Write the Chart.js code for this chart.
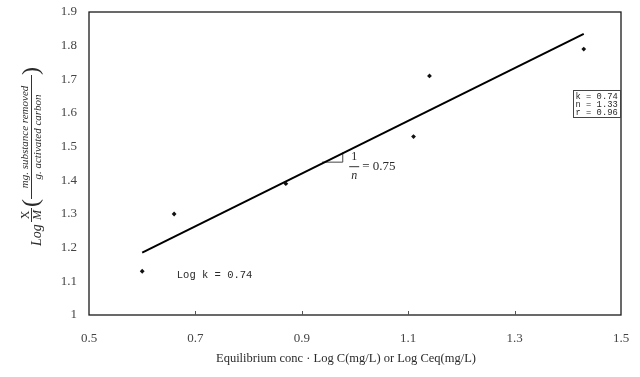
<!DOCTYPE html>
<html>
<head>
<meta charset="utf-8">
<script src="https://cdn.jsdelivr.net/npm/chart.js@4.4.1/dist/chart.umd.min.js"></script>
<style>
  html, body { margin: 0; padding: 0; background: #fff; }
  #wrap { width: 640px; height: 377px; }
</style>
</head>
<body>
<div id="wrap"><canvas id="isoChart" width="640" height="377"></canvas></div>
<script>
// measured points: log C (x) vs log X/M (y)
const logC = [0.60, 0.66, 0.87, 1.11, 1.14, 1.43];
const logXM = [1.13, 1.30, 1.39, 1.53, 1.71, 1.79];

// fitted Freundlich line
const fitX = [0.60, 1.43];
const fitY = [1.185, 1.835];

// little slope triangle under the line
const slopeX = [0.938, 0.977, 0.977];
const slopeY = [1.454, 1.454, 1.483];

const xTicks = [0.5, 0.7, 0.9, 1.1, 1.3, 1.5];
const yTicks = [1, 1.1, 1.2, 1.3, 1.4, 1.5, 1.6, 1.7, 1.8, 1.9];

const statLines = ["k = 0.74", "n = 1.33", "r = 0.96"];
const logKText = "Log k = 0.74";
const xTitle = "Equilibrium conc \u00b7 Log C(mg/L) or Log Ceq(mg/L)";

const SERIF = '"Liberation Serif", "DejaVu Serif", serif';
const MONO = '"Liberation Mono", "DejaVu Sans Mono", monospace';

const pairs = (xs, ys) => xs.map((x, i) => ({ x: x, y: ys[i] }));

const decorPlugin = {
    id: "decor",
    beforeDatasetsDraw(chart) {
        const { ctx, chartArea: a, scales } = chart;
        ctx.save();
        ctx.strokeStyle = "#1a1a1a";
        ctx.lineWidth = 1.3;
        ctx.strokeRect(a.left, a.top, a.right - a.left, a.bottom - a.top);
        // small inward ticks on the x axis
        ctx.lineWidth = 1;
        ctx.strokeStyle = "#555";
        xTicks.slice(1, -1).forEach(v => {
            const px = Math.round(scales.x.getPixelForValue(v)) + 0.5;
            ctx.beginPath();
            ctx.moveTo(px, a.bottom);
            ctx.lineTo(px, a.bottom - 4);
            ctx.stroke();
        });
        ctx.restore();
    },
    afterDraw(chart) {
        const { ctx, scales } = chart;
        const xs = scales.x, ys = scales.y;
        ctx.save();
        ctx.fillStyle = "#2a2a2a";

        // x axis title
        ctx.font = "12.5px " + SERIF;
        ctx.textAlign = "center";
        ctx.textBaseline = "middle";
        ctx.fillText(xTitle, 346, 359);

        // Log k label
        ctx.font = "10.5px " + MONO;
        ctx.textAlign = "left";
        ctx.fillText(logKText, xs.getPixelForValue(0.665), ys.getPixelForValue(1.118));

        // 1/n = 0.75
        const fx = xs.getPixelForValue(0.9985);
        const fy = ys.getPixelForValue(1.442);
        ctx.font = "12px " + SERIF;
        ctx.textAlign = "center";
        ctx.fillText("1", fx, fy - 9);
        ctx.font = "italic 12px " + SERIF;
        ctx.fillText("n", fx, fy + 10);
        ctx.strokeStyle = "#333";
        ctx.lineWidth = 1;
        ctx.beginPath();
        ctx.moveTo(fx - 5, fy + 0.5);
        ctx.lineTo(fx + 5, fy + 0.5);
        ctx.stroke();
        ctx.font = "13px " + SERIF;
        ctx.textAlign = "left";
        ctx.fillText("= 0.75", fx + 8, fy);

        // stats box at the right edge
        const bx = 573, by = 90, bw = 47, bh = 27;
        ctx.lineWidth = 1;
        ctx.strokeStyle = "#444";
        ctx.strokeRect(bx + 0.5, by + 0.5, bw, bh);
        ctx.font = "8.8px " + MONO;
        ctx.textAlign = "left";
        statLines.forEach((t, i) => ctx.fillText(t, bx + 2.5, by + 6.5 + i * 8.3));

        // rotated y axis title: Log X/M ( mg. substance removed / g. activated carbon )
        ctx.translate(31, 246);
        ctx.rotate(-Math.PI / 2);
        ctx.textBaseline = "alphabetic";
        ctx.font = "italic 14px " + SERIF;
        ctx.textAlign = "left";
        ctx.fillText("Log", 0, 10);
        ctx.font = "12px " + SERIF;
        ctx.textAlign = "center";
        ctx.fillText("X", 31, -2);
        ctx.font = "italic 12px " + SERIF;
        ctx.fillText("M", 31, 10);
        ctx.lineWidth = 1;
        ctx.strokeStyle = "#333";
        ctx.beginPath();
        ctx.moveTo(24, 0.5); ctx.lineTo(38, 0.5);
        ctx.moveTo(47, 0.5); ctx.lineTo(171, 0.5);
        ctx.stroke();
        ctx.font = "italic 11px " + SERIF;
        ctx.fillText("mg. substance removed", 109, -3);
        ctx.fillText("g. activated carbon", 109, 10);
        ctx.font = "24px " + SERIF;
        ctx.textBaseline = "middle";
        ctx.fillText("(", 43, 1);
        ctx.fillText(")", 175, 1);
        ctx.restore();
    }
};

const canvas = document.getElementById("isoChart");
const chart = new Chart(canvas.getContext("2d"), {
    type: "scatter",
    data: {
        datasets: [
            {
                label: "measured",
                data: pairs(logC, logXM),
                pointStyle: "rectRot",
                pointRadius: 2.4,
                backgroundColor: "#111",
                borderColor: "#111",
                borderWidth: 0
            },
            {
                label: "fit",
                type: "line",
                data: pairs(fitX, fitY),
                borderColor: "#000",
                borderWidth: 2,
                pointRadius: 0,
                fill: false
            },
            {
                label: "slope",
                type: "line",
                data: pairs(slopeX, slopeY),
                borderColor: "#444",
                borderWidth: 1,
                pointRadius: 0,
                fill: false
            }
        ]
    },
    options: {
        responsive: false,
        animation: false,
        devicePixelRatio: 1,
        layout: { padding: { left: 0, right: 19, top: 12, bottom: 0 } },
        plugins: {
            legend: { display: false },
            tooltip: { enabled: false }
        },
        scales: {
            x: {
                type: "linear",
                min: 0.5,
                max: 1.5,
                afterBuildTicks: s => { s.ticks = xTicks.map(v => ({ value: v })); },
                afterFit: s => {
                    s.height = 62;
                    s.paddingLeft = 0;
                    s.paddingRight = 0;
                },
                grid: { display: false, drawTicks: false },
                border: { display: false },
                ticks: {
                    padding: 16,
                    color: "#444",
                    font: { family: SERIF, size: 13 },
                    callback: v => v.toFixed(1)
                }
            },
            y: {
                type: "linear",
                min: 1,
                max: 1.9,
                afterBuildTicks: s => { s.ticks = yTicks.map(v => ({ value: v })); },
                afterFit: s => {
                    s.width = 89;
                    s.paddingTop = 0;
                    s.paddingBottom = 0;
                },
                grid: { display: false, drawTicks: false },
                border: { display: false },
                ticks: {
                    padding: 12,
                    color: "#444",
                    font: { family: SERIF, size: 13 },
                    callback: v => String(Number(v.toFixed(1)))
                }
            }
        }
    },
    plugins: [decorPlugin]
});
</script>
</body>
</html>
